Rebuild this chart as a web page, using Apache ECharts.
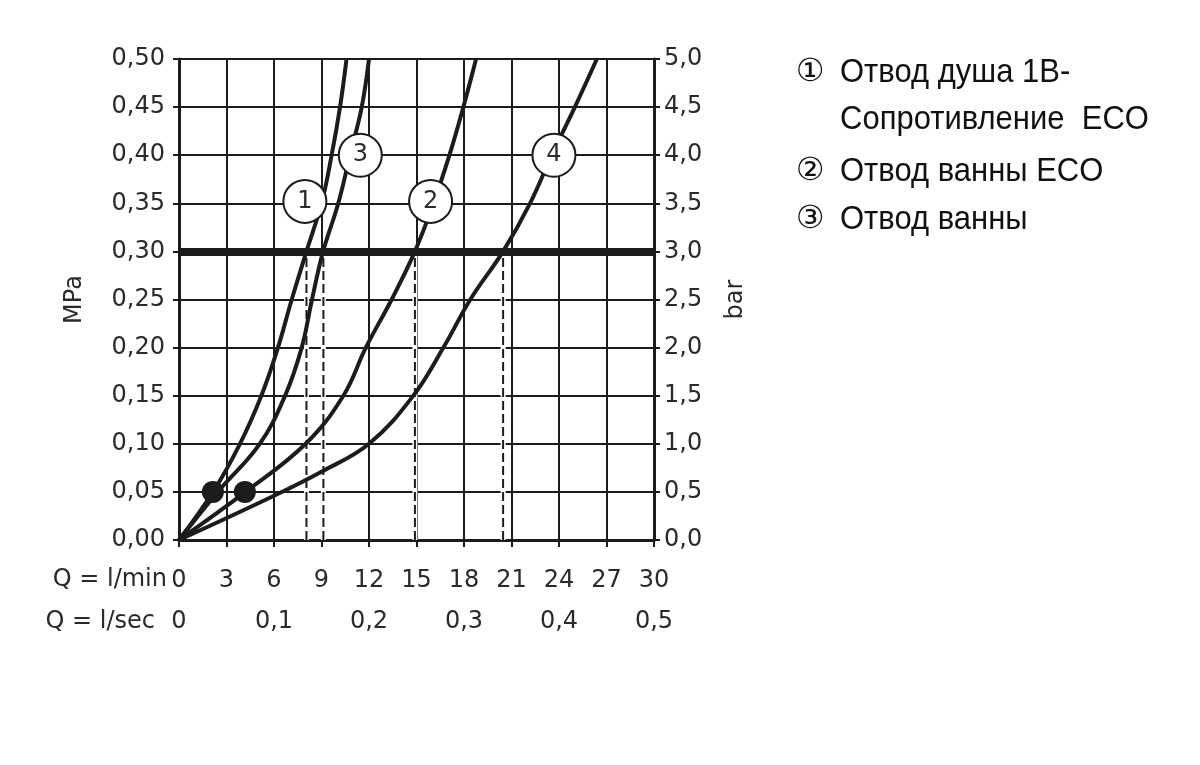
<!DOCTYPE html>
<html><head><meta charset="utf-8">
<script src="https://cdn.jsdelivr.net/npm/echarts@6/dist/echarts.min.js"></script>
<style>html,body{margin:0;padding:0;background:#fff}#c{width:1200px;height:765px}</style>
</head><body><div id="c"></div>
<script>
// ---- data (Q in l/min, P in MPa) ----
const curve1Q = [0, 2.15, 3.85, 5.2, 6.25, 7.12, 8.05, 9.0, 9.64, 10.17, 10.58];
const curve1P = [0, 0.05, 0.10, 0.15, 0.20, 0.25, 0.30, 0.35, 0.40, 0.45, 0.50];
const curve2Q = [0, 4.2, 8.0, 10.38, 11.8, 13.43, 14.9, 16.07, 17.08, 17.96, 18.76];
const curve2P = [0, 0.05, 0.10, 0.15, 0.20, 0.25, 0.30, 0.35, 0.40, 0.45, 0.50];
const curve3Q = [0, 2.45, 5.1, 6.7, 7.75, 8.4, 9.1, 10.06, 10.8, 11.54, 12.0];
const curve3P = [0, 0.05, 0.10, 0.15, 0.20, 0.25, 0.30, 0.35, 0.40, 0.45, 0.50];
const curve4Q = [0, 6.0, 9.0, 12.0, 14.8, 16.7, 18.4, 20.47, 22.17, 23.54, 25.0, 26.39];
const curve4P = [0, 0.046, 0.071, 0.10, 0.15, 0.20, 0.25, 0.30, 0.35, 0.40, 0.45, 0.50];
const refPressure = 0.30;
const ratedFlow = [8.05, 9.12, 14.9, 20.47];
const markerText = ['1', '2', '3', '4'];
const markerQ = [7.95, 15.89, 11.45, 23.68];
const markerP = [0.352, 0.352, 0.40, 0.40];
const dotQ = [2.14, 4.16];
const dotP = [0.05, 0.05];
const mpaTicks = ['0,00','0,05','0,10','0,15','0,20','0,25','0,30','0,35','0,40','0,45','0,50'];
const barTicks = ['0,0','0,5','1,0','1,5','2,0','2,5','3,0','3,5','4,0','4,5','5,0'];
const lminTicks = ['0','3','6','9','12','15','18','21','24','27','30'];
const lsecTicks = ['0','0,1','0,2','0,3','0,4','0,5'];
const legendLines = [['①', 'Отвод душа 1В-'], ['', 'Сопротивление  ECO'], ['②', 'Отвод ванны ECO'], ['③', 'Отвод ванны']];

const ink = '#1c1c1c';
const txt = '#2a2a2a';
const tickFont = {fontFamily: 'DejaVu Sans', fontSize: 24, color: txt};
const zip = (a, b) => a.map((v, i) => [v, b[i]]);

const curveSeries = [[curve1Q, curve1P], [curve2Q, curve2P], [curve3Q, curve3P], [curve4Q, curve4P]].map(([q, p]) => ({
  type: 'line', data: zip(q, p), smooth: 0.4, showSymbol: false, symbol: 'none',
  lineStyle: {color: ink, width: 4}, z: 5, silent: true
}));

const dashUnder = ratedFlow.map(q => ({
  type: 'line', data: [[q, 0], [q, refPressure]], showSymbol: false, symbol: 'none',
  lineStyle: {color: '#fff', width: 5}, z: 2, silent: true
}));
const dashSeries = ratedFlow.map(q => ({
  type: 'line', data: [[q, 0], [q, refPressure]], showSymbol: false, symbol: 'none',
  lineStyle: {color: ink, width: 2, type: [9, 4]}, z: 3, silent: true
}));

const legendGraphics = [];
const legendY = [73, 120, 172, 220];
legendLines.forEach((l, i) => {
  if (l[0]) legendGraphics.push({type: 'text', x: 810, y: legendY[i],
    style: {text: l[0], font: '32px "DejaVu Sans"', fill: '#111', align: 'center', verticalAlign: 'middle'}});
  legendGraphics.push({type: 'text', x: 840, y: legendY[i], scaleY: 1.1,
    style: {text: l[1], font: '31px "Liberation Sans"', fill: '#111', align: 'left', verticalAlign: 'middle'}});
});
legendGraphics.push({type: 'text', x: 167, y: 580, style: {text: 'Q = l/min', font: '24px "DejaVu Sans"', fill: txt, align: 'right', verticalAlign: 'middle'}});
legendGraphics.push({type: 'text', x: 155, y: 622, style: {text: 'Q = l/sec', font: '24px "DejaVu Sans"', fill: txt, align: 'right', verticalAlign: 'middle'}});

const chart = echarts.init(document.getElementById('c'), null, {renderer: 'canvas'});
chart.setOption({
  animation: false,
  backgroundColor: '#fff',
  grid: {left: 179, top: 59, width: 475, height: 481, containLabel: false},
  xAxis: [
    {type: 'value', min: 0, max: 30, interval: 3, position: 'bottom',
     axisLine: {show: true, onZero: false, lineStyle: {color: ink, width: 3}},
     axisTick: {show: true, inside: false, length: 7, lineStyle: {color: ink, width: 2}},
     axisLabel: Object.assign({margin: 41, verticalAlign: 'middle', formatter: (v, i) => lminTicks[i]}, tickFont),
     splitLine: {show: true, lineStyle: {color: ink, width: 2}}},
    {type: 'value', min: 0, max: 30, interval: 6, position: 'bottom',
     axisLine: {show: false}, axisTick: {show: false}, splitLine: {show: false},
     axisLabel: Object.assign({margin: 82, verticalAlign: 'middle', formatter: (v, i) => lsecTicks[i]}, tickFont)}
  ],
  yAxis: [
    {type: 'value', min: 0, max: 0.5, interval: 0.05, position: 'left',
     name: 'MPa', nameLocation: 'middle', nameGap: 92, nameRotate: 90,
     nameTextStyle: {fontFamily: 'DejaVu Sans', fontSize: 24, color: txt},
     axisLine: {show: true, onZero: false, lineStyle: {color: ink, width: 3}},
     axisTick: {show: true, inside: false, length: 6, lineStyle: {color: ink, width: 2}},
     axisLabel: Object.assign({margin: 14, formatter: (v, i) => mpaTicks[i]}, tickFont),
     splitLine: {show: true, lineStyle: {color: ink, width: 2}}},
    {type: 'value', min: 0, max: 5, interval: 0.5, position: 'right',
     name: 'bar', nameLocation: 'middle', nameGap: 70, nameRotate: 90,
     nameTextStyle: {fontFamily: 'DejaVu Sans', fontSize: 24, color: txt},
     axisLine: {show: true, onZero: false, lineStyle: {color: ink, width: 3}},
     axisTick: {show: true, inside: false, length: 6, lineStyle: {color: ink, width: 2}},
     axisLabel: Object.assign({margin: 10, formatter: (v, i) => barTicks[i]}, tickFont),
     splitLine: {show: false}}
  ],
  graphic: legendGraphics,
  series: [
    {type: 'line', data: [], markLine: {silent: true, symbol: 'none', label: {show: false},
      lineStyle: {color: ink, width: 8, type: 'solid'}, data: [{yAxis: refPressure}]}, z: 4},
    ...dashUnder, ...dashSeries, ...curveSeries,
    {type: 'scatter', data: zip(dotQ, dotP), symbol: 'circle', symbolSize: 22,
     itemStyle: {color: ink, opacity: 1}, z: 8, silent: true},
    {type: 'scatter', data: markerQ.map((q, i) => ({value: [q, markerP[i]], name: markerText[i]})),
     symbol: 'circle', symbolSize: 43, z: 10, silent: true,
     itemStyle: {color: '#fff', borderColor: ink, borderWidth: 2, opacity: 1},
     label: {show: true, position: 'inside', formatter: p => p.name, fontFamily: 'DejaVu Sans', fontSize: 24, color: txt}}
  ]
});
</script></body></html>
